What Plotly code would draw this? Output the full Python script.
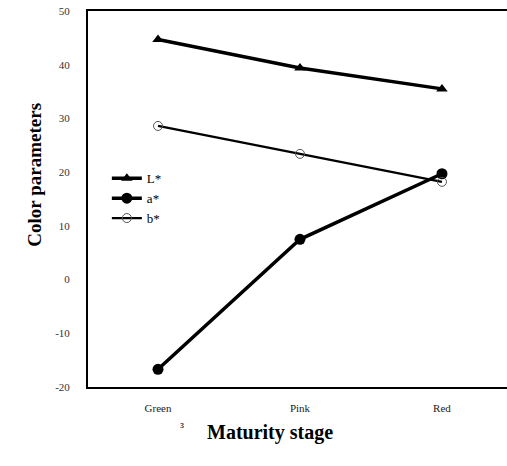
import plotly.graph_objects as go

stages = ["Green", "Pink", "Red"]
L_star = [44.7, 39.4, 35.5]
a_star = [-16.7, 7.5, 19.7]
b_star = [28.6, 23.4, 18.2]
y_ticks = [-20, -10, 0, 10, 20, 30, 40, 50]
y_tick_text = ["-20", "-10", "0", "10", "20", "30", "40", "50"]

xpos = list(range(len(stages)))
SERIF = "Liberation Serif, Times New Roman, serif"

fig = go.Figure()
fig.add_trace(go.Scatter(
    x=xpos, y=L_star, name="L*", mode="lines+markers",
    line=dict(color="black", width=3.5),
    marker=dict(symbol="triangle-up", size=10, color="black"),
))
fig.add_trace(go.Scatter(
    x=xpos, y=a_star, name="a*", mode="lines+markers",
    line=dict(color="black", width=3.5),
    marker=dict(symbol="circle", size=11, color="black"),
))
fig.add_trace(go.Scatter(
    x=xpos, y=b_star, name="b*", mode="lines+markers",
    line=dict(color="black", width=2.2),
    marker=dict(symbol="circle-open", size=9, color="#555", line=dict(width=1)),
))

fig.update_layout(
    width=507, height=466,
    margin=dict(l=88, r=0, t=11, b=79, autoexpand=False),
    paper_bgcolor="white", plot_bgcolor="white",
    font=dict(family=SERIF, color="black"),
    showlegend=True,
    legend=dict(
        x=0.045, y=0.595, xanchor="left", yanchor="top",
        bgcolor="rgba(0,0,0,0)", font=dict(size=13, family=SERIF),
        itemwidth=30, tracegroupgap=0,
    ),
    xaxis=dict(
        range=[-0.493, 2.458], tickvals=xpos, ticktext=stages,
        showgrid=False, zeroline=False, showline=True, linecolor="black",
        linewidth=2, mirror=True, ticks="",
        tickfont=dict(size=11, family=SERIF, color="#222"),
        ticklabelstandoff=10,
    ),
    yaxis=dict(
        range=[-20, 50], tickvals=y_ticks, ticktext=y_tick_text,
        showgrid=False, zeroline=False, showline=True, linecolor="black",
        linewidth=2, ticks="",
        tickfont=dict(size=11, family=SERIF, color="#333"),
        ticklabelstandoff=14,
    ),
    annotations=[
        dict(text="<b>Maturity stage</b>", xref="paper", yref="paper",
             x=0.434, y=-0.157, showarrow=False,
             font=dict(size=20, family=SERIF, color="black")),
        dict(text="<b>Color parameters</b>", xref="paper", yref="paper",
             x=-0.157, y=0.564, showarrow=False, textangle=-90,
             font=dict(size=19, family=SERIF, color="black")),
        dict(text="³", xref="paper", yref="paper",
             x=0.215, y=-0.13, showarrow=False,
             font=dict(size=13, family=SERIF, color="black")),
    ],
)

fig.write_html(
    "out.html",
    config={"displayModeBar": False},
    post_script="document.body.style.margin='0';document.body.style.overflow='hidden';",
)
